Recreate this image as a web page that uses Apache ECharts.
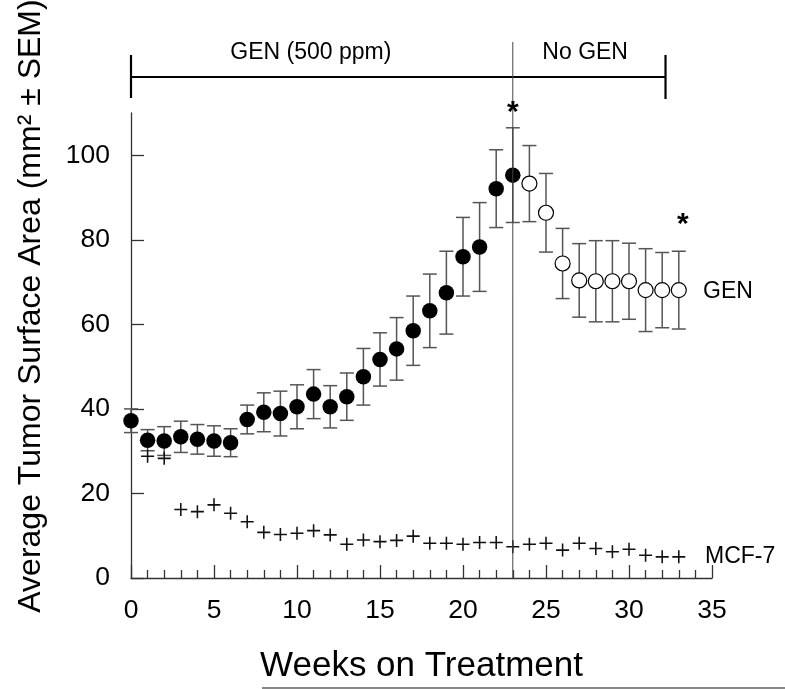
<!DOCTYPE html>
<html><head><meta charset="utf-8">
<script src="https://cdn.jsdelivr.net/npm/echarts@6/dist/echarts.min.js"></script>
<style>html,body{margin:0;padding:0;background:#fff}#c{width:785px;height:689px}</style>
</head><body><div id="c"></div>
<script>
// ---- data ----
const genWeeks = [0,1,2,3,4,5,6,7,8,9,10,11,12,13,14,15,16,17,18,19,20,21,22,23];
const genMean  = [37.2,32.6,32.4,33.4,32.8,32.4,32.0,37.5,39.2,38.9,40.5,43.5,40.5,42.9,47.6,51.7,54.2,58.5,63.2,67.5,76.0,78.3,92.1,95.3];
const genSem   = [2.8,2.5,3.4,3.7,3.5,3.6,3.3,3.4,4.6,5.3,5.2,5.8,5.0,5.6,6.7,6.3,7.4,8.2,8.7,9.8,9.3,10.5,9.2,11.2];
const noGenWeeks = [24,25,26,27,28,29,30,31,32,33];
const noGenMean  = [93.3,86.4,74.4,70.4,70.2,70.2,70.2,68.1,68.1,68.1];
const noGenSem   = [9.0,9.3,8.3,8.7,9.6,9.6,9.0,9.8,8.9,9.2];
const mcfWeeks = [1,2,3,4,5,6,7,8,9,10,11,12,13,14,15,16,17,18,19,20,21,22,23,24,25,26,27,28,29,30,31,32,33];
const mcfMean  = [28.8,28.3,16.2,15.7,17.3,15.3,13.3,10.8,10.3,10.6,11.2,10.2,8.0,9.0,8.6,8.9,9.9,8.2,8.2,8.0,8.4,8.4,7.4,8.0,8.2,6.6,8.2,7.0,6.2,6.8,5.4,5.0,5.0];
const xTicks = [0,5,10,15,20,25,30,35];
const yTicks = [0,20,40,60,80,100];
const phaseStart = 0, phaseSwitch = 23, phaseEnd = 32.2;
const sigWeeks = [23, 33.25];

// ---- build ----
const FONT = "'Liberation Sans', Arial, sans-serif";
const errData = genWeeks.map((w,i)=>[w, genMean[i]-genSem[i], genMean[i]+genSem[i]])
  .concat(noGenWeeks.map((w,i)=>[w, noGenMean[i]-noGenSem[i], noGenMean[i]+noGenSem[i]]));
const plusPath = 'path://M0,4.4H4.4V0H5.6V4.4H10V5.6H5.6V10H4.4V5.6H0Z';

const chart = echarts.init(document.getElementById('c'));
const option = {
  animation: false,
  backgroundColor: '#fff',
  grid: {left: 131, right: 73, top: 113, bottom: 111},
  xAxis: {
    type: 'value', min: 0, max: 35, interval: 5,
    name: 'Weeks on Treatment', nameLocation: 'middle', nameGap: 71,
    nameTextStyle: {fontFamily: FONT, fontSize: 35, color: '#000'},
    axisLine: {lineStyle: {color: '#333', width: 1.3}},
    axisTick: {inside: true, length: 13, lineStyle: {color: '#333', width: 1.3}},
    minorTick: {show: true, splitNumber: 5, length: 8, lineStyle: {color: '#333', width: 1.3}},
    axisLabel: {fontFamily: FONT, fontSize: 26.5, color: '#000', margin: 19, customValues: xTicks},
    splitLine: {show: false}, minorSplitLine: {show: false}
  },
  yAxis: {
    type: 'value', min: 0, max: 110, interval: 20,
    axisLine: {show: true, lineStyle: {color: '#333', width: 1.3}},
    axisTick: {show: true, inside: true, length: 13, lineStyle: {color: '#333', width: 1.3}, customValues: yTicks},
    axisLabel: {fontFamily: FONT, fontSize: 26.5, color: '#000', margin: 21, customValues: yTicks},
    splitLine: {show: false}
  },
  series: [
    {
      type: 'custom', name: 'err', data: errData, encode: {x: 0, y: [1, 2]}, z: 2,
      renderItem: function (params, api) {
        const x = api.value(0);
        const lo = api.coord([x, api.value(1)]);
        const hi = api.coord([x, api.value(2)]);
        const hw = 7;
        const st = {stroke: '#555', lineWidth: 1.5};
        return {type: 'group', children: [
          {type: 'line', shape: {x1: lo[0], y1: lo[1], x2: hi[0], y2: hi[1]}, style: st},
          {type: 'line', shape: {x1: hi[0]-hw, y1: hi[1], x2: hi[0]+hw, y2: hi[1]}, style: st},
          {type: 'line', shape: {x1: lo[0]-hw, y1: lo[1], x2: lo[0]+hw, y2: lo[1]}, style: st}
        ]};
      }
    },
    {
      type: 'scatter', name: 'MCF-7', data: mcfWeeks.map((w,i)=>[w, mcfMean[i]]),
      symbol: plusPath, symbolSize: 13, itemStyle: {color: '#111', opacity: 1}, z: 3
    },
    {
      type: 'scatter', name: 'GEN', data: genWeeks.map((w,i)=>[w, genMean[i]]),
      symbol: 'circle', symbolSize: 15.5, itemStyle: {color: '#000', opacity: 1}, z: 4
    },
    {
      type: 'scatter', name: 'No GEN', data: noGenWeeks.map((w,i)=>[w, noGenMean[i]]),
      symbol: 'circle', symbolSize: 15, itemStyle: {color: '#fff', borderColor: '#000', borderWidth: 1.2, opacity: 1}, z: 4
    }
  ]
};
chart.setOption(option);

function px(v){ return chart.convertToPixel({gridIndex: 0}, [v, 0])[0]; }
const x0 = px(phaseStart), xs = px(phaseSwitch), xe = px(phaseEnd);
const axisY = chart.convertToPixel({gridIndex: 0}, [0, 0])[1];
const txt = (x, y, t, opts) => Object.assign({type: 'text', x: x, y: y, z: 100,
  style: Object.assign({text: t, fontFamily: FONT, fontSize: 23, fill: '#000', align: 'center', verticalAlign: 'middle'}, opts || {})});
chart.setOption({graphic: [
  {type: 'line', z: 100, shape: {x1: x0, y1: 77, x2: xe, y2: 77}, style: {stroke: '#000', lineWidth: 2.2}},
  {type: 'line', z: 100, shape: {x1: x0, y1: 55, x2: x0, y2: 98}, style: {stroke: '#000', lineWidth: 2.2}},
  {type: 'line', z: 100, shape: {x1: xe, y1: 55, x2: xe, y2: 99}, style: {stroke: '#000', lineWidth: 2.2}},
  {type: 'line', z: 100, shape: {x1: xs, y1: 42, x2: xs, y2: axisY}, style: {stroke: '#444', lineWidth: 1}},
  txt((x0 + xs) / 2 - 11, 53, 'GEN (500 ppm)'),
  txt((xs + xe) / 2 - 4, 53, 'No GEN'),
  txt(px(sigWeeks[0]), 113, '*', {fontSize: 30, fontWeight: 'bold'}),
  txt(px(sigWeeks[1]), 225, '*', {fontSize: 30, fontWeight: 'bold'}),
  txt(703, 292, 'GEN', {align: 'left'}),
  txt(705, 557, 'MCF-7', {align: 'left'}),
  {type: 'text', z: 100, x: 31, y: 306, rotation: Math.PI / 2,
   style: {text: 'Average Tumor Surface Area (mm² ± SEM)', fontFamily: FONT, fontSize: 32, fill: '#000', align: 'center', verticalAlign: 'middle'}},
  {type: 'line', z: 100, shape: {x1: 262, y1: 688, x2: 785, y2: 688}, style: {stroke: '#888', lineWidth: 2}}
]});
</script>
</body></html>
